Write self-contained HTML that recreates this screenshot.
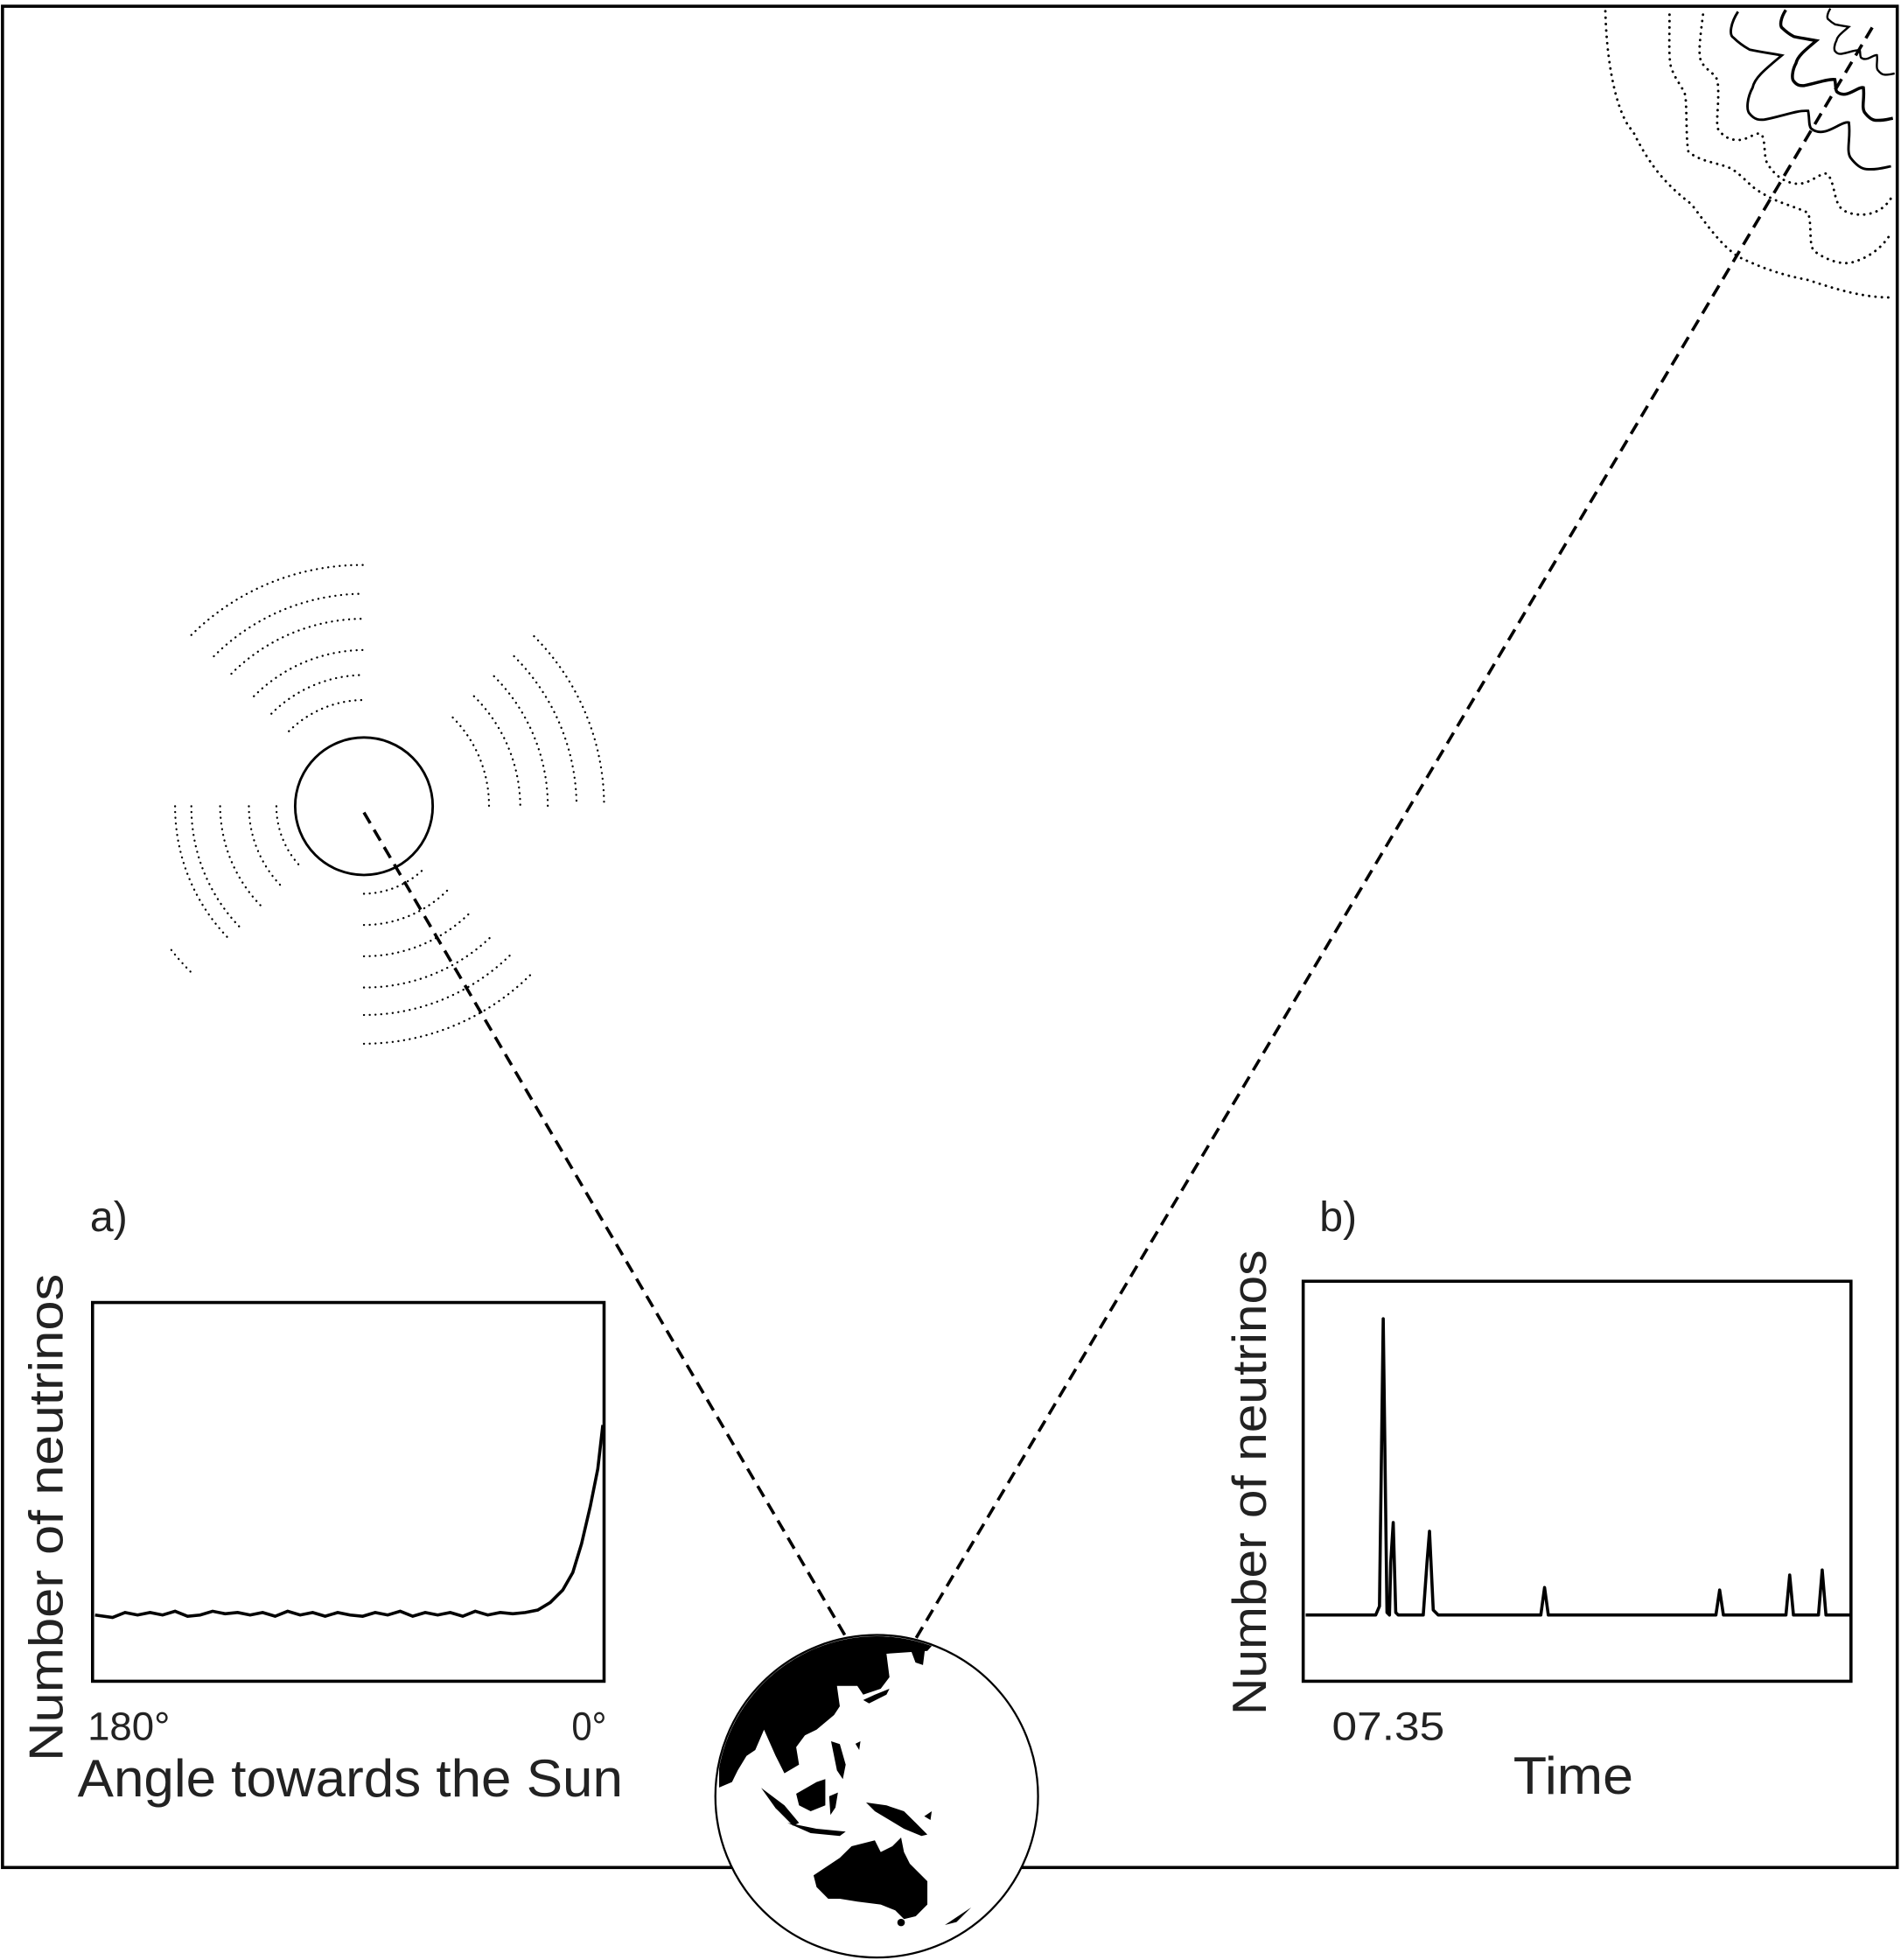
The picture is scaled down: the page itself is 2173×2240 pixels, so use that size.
<!DOCTYPE html>
<html><head><meta charset="utf-8"><style>
html,body{margin:0;padding:0;background:#fff}
svg{display:block}
text{font-family:"Liberation Sans",sans-serif;fill:#222}
</style></head><body>
<svg width="2173" height="2240" viewBox="0 0 1520 1568" preserveAspectRatio="none" xmlns="http://www.w3.org/2000/svg">
<rect x="0" y="0" width="1520" height="1568" fill="#fff"/>
<rect x="2" y="5" width="1515" height="1489" fill="none" stroke="#000" stroke-width="2.5"/>

<!-- top right corner phenomena -->
<g fill="none" stroke="#000" stroke-width="2" stroke-dasharray="0.1 5" stroke-linecap="round">
<path d="M1283.6,9 C1285,60 1295,95 1305.7,105 C1320,135 1335,150 1352.4,163.3 C1365,180 1375,195 1389.7,205.3 C1410,215 1425,220 1445.7,224 C1470,232 1490,238 1512,238"/>
<path d="M1334.9,11.7 C1335,30 1334,45 1336.1,53.7 C1340,65 1346,70 1347.7,77 C1349,95 1348,110 1350,121.3 C1360,130 1375,130 1385,135.3 C1395,142 1400,150 1408.3,154 C1420,162 1435,165 1445.7,170.3 C1449,180 1446,195 1450.3,200.6 C1460,208 1472,212 1480.6,210 C1495,206 1505,198 1512,186.6"/>
<path d="M1361.7,11.7 C1360,25 1358,40 1359.4,46.7 C1362,56 1372,58 1373.4,65.3 C1375,80 1372,95 1373.4,102.7 C1378,110 1384,112 1389.7,112 C1398,112 1404,105 1408.3,107.3 C1412,112 1410,125 1413,130.6 C1420,142 1428,146 1436.3,147 C1448,148 1458,135 1462,140 C1468,150 1466,162 1473.6,168 C1480,172 1488,172 1492.3,171.5 C1502,170 1508,165 1512,158.6"/>
</g>
<g fill="none" stroke="#000">
<path id="lobe" stroke-width="2" d="M1389.7,9.3 C1384,18 1382,28 1386.2,30.3 C1392,36 1396,38 1399,39.7 C1410,42 1418,43 1424.7,44.3 C1412,55 1403,62 1401.4,70 C1397,78 1396,88 1399,91 C1403,96 1407,96 1410.7,95.7 C1425,93 1437,88 1445.7,88.7 C1447,95 1446,100 1448,102.7 C1452,106 1456,106 1459.7,105 C1467,103 1474,97 1478.3,98 C1480,110 1476,120 1479.5,126 C1484,132 1488,135 1492.3,135.3 C1500,136 1507,134 1512,133"/>
<path stroke-width="3.5" transform="translate(1517,5) scale(0.7) translate(-1517,-5)" d="M1389.7,9.3 C1384,18 1382,28 1386.2,30.3 C1392,36 1396,38 1399,39.7 C1410,42 1418,43 1424.7,44.3 C1412,55 1403,62 1401.4,70 C1397,78 1396,88 1399,91 C1403,96 1407,96 1410.7,95.7 C1425,93 1437,88 1445.7,88.7 C1447,95 1446,100 1448,102.7 C1452,106 1456,106 1459.7,105 C1467,103 1474,97 1478.3,98 C1480,110 1476,120 1479.5,126 C1484,132 1488,135 1492.3,135.3 C1500,136 1507,134 1512,133"/>
<path stroke-width="4" transform="translate(1517,5) scale(0.42) translate(-1517,-5)" d="M1389.7,9.3 C1384,18 1382,28 1386.2,30.3 C1392,36 1396,38 1399,39.7 C1410,42 1418,43 1424.7,44.3 C1412,55 1403,62 1401.4,70 C1397,78 1396,88 1399,91 C1403,96 1407,96 1410.7,95.7 C1425,93 1437,88 1445.7,88.7 C1447,95 1446,100 1448,102.7 C1452,106 1456,106 1459.7,105 C1467,103 1474,97 1478.3,98 C1480,110 1476,120 1479.5,126 C1484,132 1488,135 1492.3,135.3 C1500,136 1507,134 1512,133"/>
</g>

<!-- sun -->
<circle cx="291" cy="645" r="55" fill="none" stroke="#000" stroke-width="2"/>
<g fill="none" stroke="#000" stroke-width="1.6" stroke-dasharray="0.1 4.5" stroke-linecap="round">
<path d="M231,585 A85,85 0 0 1 291,560"/>
<path d="M217,571 A105,105 0 0 1 291,540"/>
<path d="M203,557 A125,125 0 0 1 291,520"/>
<path d="M185,539 A150,150 0 0 1 291,495"/>
<path d="M171,525 A170,170 0 0 1 291,475"/>
<path d="M153,508 A193,193 0 0 1 291,452"/>
<path d="M362,574 A100,100 0 0 1 391,645"/>
<path d="M379,557 A125,125 0 0 1 416,645"/>
<path d="M395,541 A147,147 0 0 1 438,645"/>
<path d="M411,525 A170,170 0 0 1 461,645"/>
<path d="M427,509 A192,192 0 0 1 483,645"/>
<path d="M291,715 A70,70 0 0 0 340,694"/>
<path d="M291,740 A95,95 0 0 0 358,712"/>
<path d="M291,765 A120,120 0 0 0 376,730"/>
<path d="M291,790 A145,145 0 0 0 394,748"/>
<path d="M291,812 A167,167 0 0 0 409,763"/>
<path d="M291,835 A190,190 0 0 0 425,779"/>
<path d="M221,645 A70,70 0 0 0 241,694"/>
<path d="M199,645 A92,92 0 0 0 226,710"/>
<path d="M176,645 A115,115 0 0 0 210,726"/>
<path d="M153,645 A138,138 0 0 0 193,743"/>
<path d="M140,645 A151,151 0 0 0 184,752"/>
<path d="M137,760 A190,190 0 0 0 155,780"/>
</g>

<!-- dashed lines -->
<g fill="none" stroke="#000" stroke-width="2.5" stroke-dasharray="10 6">
<line x1="291" y1="650" x2="700" y2="1350"/>
<line x1="1497" y1="22" x2="728" y2="1318"/>
</g>

<!-- globe -->
<circle cx="701" cy="1437" r="129" fill="#fff" stroke="#000" stroke-width="1.6"/>
<clipPath id="gc"><circle cx="701" cy="1437" r="128"/></clipPath>
<g clip-path="url(#gc)" fill="#000">
<path d="M575,1430 L575,1300 L760,1300 L741.5,1320.7 L708.8,1323 L711.2,1341.7 L704.2,1351 L690.2,1355.7 L685.5,1348.7 L669.2,1348.7 L671.5,1365 L666.9,1372 L652.9,1383.7 L643.6,1388.3 L636.6,1397.7 L638.9,1411.7 L627.2,1418.6 L620.2,1404.7 L610.9,1383.7 L603.9,1400 L596.9,1404.7 L589.9,1416.3 L585.3,1425.6 Z"/>
<path d="M727.5,1318 L740,1316 L738,1332 L732,1330 Z"/>
<path d="M608.6,1430.3 L627.2,1444.3 L638.9,1458.3 L634.2,1460.6 L620.2,1446.6 Z"/>
<path d="M636.6,1435 L652.9,1425.6 L659.9,1423.3 L659.9,1444.3 L648.2,1449 L638.9,1444.3 Z"/>
<path d="M629.6,1458.3 L652.9,1463 L676.2,1465.3 L671.5,1468.8 L648.2,1466.5 Z"/>
<path d="M664.5,1393 L671.5,1395.3 L676.2,1411.7 L673.9,1423.3 L669.2,1416.3 Z"/>
<path d="M663,1437 L670,1434 L668,1446 L664,1452 Z"/>
<path d="M692.5,1442 L708.8,1444.3 L722.8,1449 L732.2,1458.3 L741.5,1467.6 L736.8,1468.8 L722.8,1463 L711.2,1456 L699.5,1449 Z"/>
<path d="M650.5,1500.3 L671.5,1486.3 L680.9,1477 L699.5,1472.3 L704.2,1481.6 L713.5,1477 L720.5,1470 L722.8,1481.6 L727.5,1491 L741.5,1505 L741.5,1523.6 L732.2,1533 L722.8,1535.3 L715.8,1528.3 L704.2,1523.6 L685.5,1521.3 L671.5,1519 L662.2,1519 L652.9,1509.6 Z"/>
<circle cx="720.5" cy="1538" r="3"/>
<path d="M755.5,1540 L769.5,1530.6 L776.5,1526 L764.8,1537.6 Z"/>
<path d="M690.2,1360 L699.5,1355.7 L711.2,1351 L708.8,1355.7 L694.9,1362.7 Z"/>
<path d="M684,1395 L688,1393 L687,1400 Z"/>
<path d="M739,1453 L745,1449 L744,1456 Z"/>
</g>

<!-- panel a -->
<text x="72" y="985" font-size="34" textLength="30" lengthAdjust="spacingAndGlyphs">a)</text>
<rect x="74" y="1042" width="409" height="303" fill="none" stroke="#000" stroke-width="2.5"/>
<path d="M76,1292 L90,1294 L100,1290 L110,1292 L120,1290 L130,1292 L140,1289 L150,1293 L160,1292 L170,1289 L180,1291 L190,1290 L200,1292 L210,1290 L220,1293 L230,1289 L240,1292 L250,1290 L260,1293 L270,1290 L280,1292 L290,1293 L300,1290 L310,1292 L320,1289 L330,1293 L340,1290 L350,1292 L360,1290 L370,1293 L380,1289 L390,1292 L400,1290 L410,1291 L420,1290 L430,1288 L440,1282 L450,1272 L458,1258 L465,1235 L472,1205 L478,1175 L482,1140" fill="none" stroke="#000" stroke-width="2.5"/>
<text x="70" y="1392" font-size="32" textLength="66" lengthAdjust="spacingAndGlyphs">180°</text>
<text x="457" y="1392" font-size="32" textLength="28" lengthAdjust="spacingAndGlyphs">0°</text>
<text x="62" y="1437" font-size="42" textLength="436" lengthAdjust="spacingAndGlyphs">Angle towards the Sun</text>
<text transform="translate(50,1214) rotate(-90)" text-anchor="middle" font-size="38" textLength="390" lengthAdjust="spacingAndGlyphs">Number of neutrinos</text>

<!-- panel b -->
<text x="1055" y="985" font-size="34" textLength="30" lengthAdjust="spacingAndGlyphs">b)</text>
<rect x="1042" y="1025" width="438" height="320" fill="none" stroke="#000" stroke-width="2.5"/>
<path d="M1044,1292 L1100,1292 L1103,1285 L1106,1055 L1109,1290 L1111,1292 L1112,1250 L1114,1218 L1116,1290 L1118,1292 L1138,1292 L1141,1250 L1143,1225 L1146,1288 L1150,1292 L1232,1292 L1235,1270 L1238,1292 L1372,1292 L1375,1272 L1378,1292 L1428,1292 L1431,1260 L1434,1292 L1454,1292 L1457,1256 L1460,1292 L1480,1292" fill="none" stroke="#000" stroke-width="2.5" stroke-linejoin="round"/>
<text x="1065" y="1392" font-size="32" textLength="90" lengthAdjust="spacingAndGlyphs">07.35</text>
<text x="1210" y="1435" font-size="42" textLength="96" lengthAdjust="spacingAndGlyphs">Time</text>
<text transform="translate(1012,1186) rotate(-90)" text-anchor="middle" font-size="38" textLength="372" lengthAdjust="spacingAndGlyphs">Number of neutrinos</text>
</svg>
</body></html>
